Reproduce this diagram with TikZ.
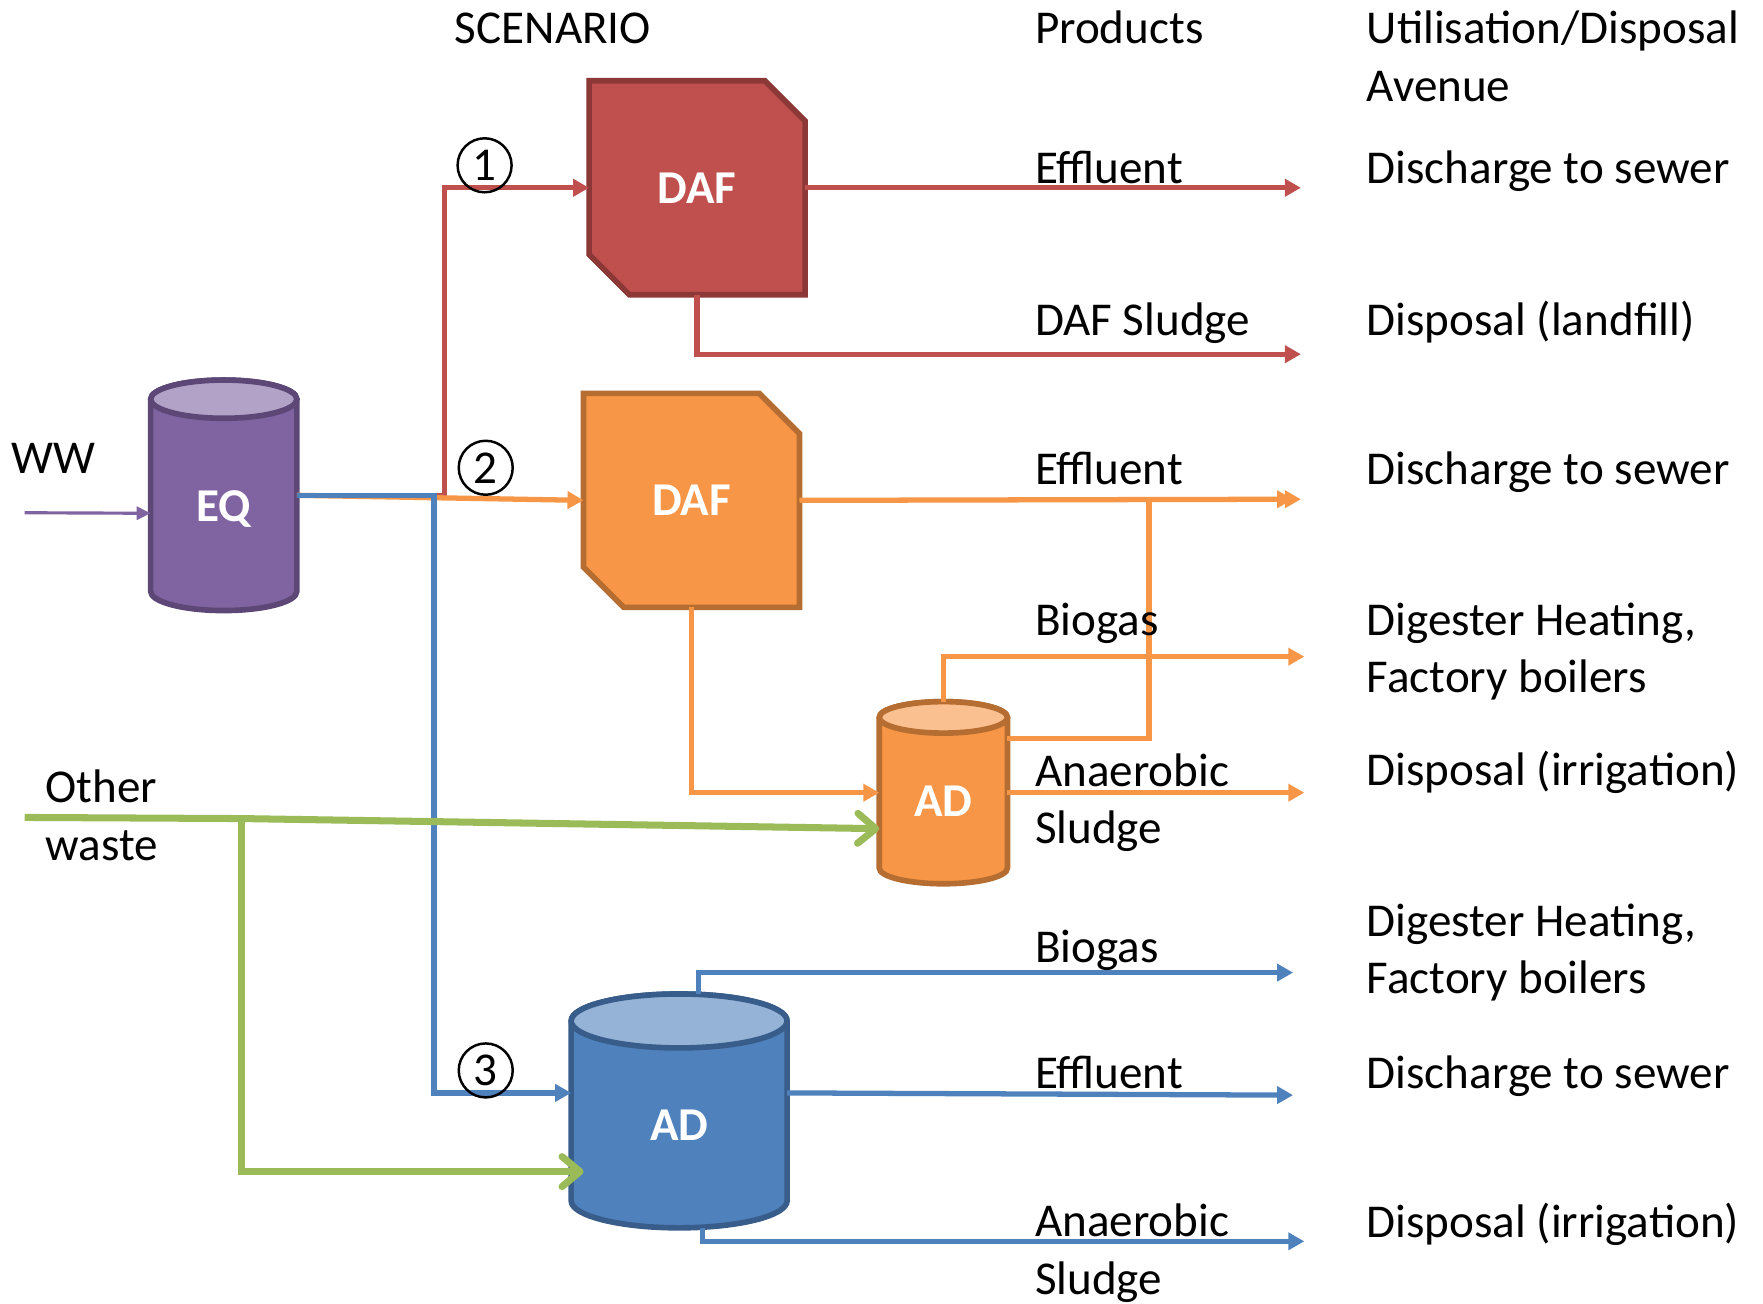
\documentclass[tikz,border=0pt]{standalone}
\usepackage{fontspec}
\setmainfont{Carlito}
\usetikzlibrary{arrows.meta, calc, shapes.misc, positioning}

\definecolor{redfill}{HTML}{C0504D}\definecolor{redline}{HTML}{8C3836}
\definecolor{orfill}{HTML}{F79646}\definecolor{orline}{HTML}{B66D31}\definecolor{ortop}{HTML}{FAC090}
\definecolor{purfill}{HTML}{8064A2}\definecolor{purline}{HTML}{5C4776}\definecolor{purtop}{HTML}{B3A2C7}
\definecolor{blufill}{HTML}{4F81BD}\definecolor{bluline}{HTML}{385D8A}\definecolor{blutop}{HTML}{95B3D7}
\definecolor{grn}{HTML}{9BBB59}

\tikzset{
  txt/.style={font=\fontsize{13.4}{16.3}\selectfont, anchor=base west, inner sep=0pt, align=left},
  unit/.style={chamfered rectangle, chamfered rectangle corners={north east,south west}, chamfered rectangle xsep=2.5mm, chamfered rectangle ysep=2.5mm, minimum width=21.6mm, minimum height=21.4mm, inner sep=0pt, outer sep=0pt, line width=1.6pt, text=white, font=\fontsize{13.4}{16}\selectfont\bfseries},
  tank/.style={inner sep=0pt, outer sep=0pt, text=white, text depth=0pt, font=\fontsize{13.4}{16}\selectfont\bfseries},
  tankwall/.style={line width=1.6pt},
  stage/.style={circle, draw, line width=0.7pt, minimum size=5.4mm, inner sep=0pt, font=\fontsize{13.4}{16}\selectfont},
  flow/.style={line width=1.5pt, -{Triangle[length=1.6mm,width=1.7mm]}},
  wasteflow/.style={line width=2pt, grn, -{Straight Barb[round,length=1.8mm,width=3mm]}}
}

\begin{document}
\begin{tikzpicture}[x=0.11244mm, y=0.11244mm]
	\useasboundingbox (0,0) rectangle (1568,-1159);

	% process units
	\node[unit, fill=redfill, draw=redline] (daf1) at (620,-167) {DAF};
	\node[unit, fill=orfill, draw=orline] (daf2) at (615,-445) {DAF};

	\filldraw[tankwall, fill=purfill, draw=purline] (134,-355) -- (134,-526) arc[start angle=180, end angle=360, x radius=65, y radius=17] -- (264,-355) arc[start angle=0, end angle=180, x radius=65, y radius=17];
	\filldraw[tankwall, fill=purtop, draw=purline] (199,-355) ellipse[x radius=65, y radius=17];
	\node[tank, minimum width=14.62mm, minimum height=23.05mm, text height=5.2mm] (eq) at (199,-440.5) {EQ};

	\filldraw[tankwall, fill=orfill, draw=orline] (782,-638) -- (782,-772) arc[start angle=180, end angle=360, x radius=57, y radius=14] -- (896,-638) arc[start angle=0, end angle=180, x radius=57, y radius=14];
	\filldraw[tankwall, fill=ortop, draw=orline] (839,-638) ellipse[x radius=57, y radius=14];
	\node[tank, minimum width=12.82mm, minimum height=18.22mm, text height=4.8mm] (ad2) at (839,-705) {AD};

	\filldraw[tankwall, fill=blufill, draw=bluline] (508,-908) -- (508,-1068) arc[start angle=180, end angle=360, x radius=96, y radius=24] -- (700,-908) arc[start angle=0, end angle=180, x radius=96, y radius=24];
	\filldraw[tankwall, fill=blutop, draw=bluline] (604,-908) ellipse[x radius=96, y radius=24];
	\node[tank, minimum width=21.59mm, minimum height=23.39mm, text height=6mm] (ad3) at (604,-988) {AD};

	% free ends
	\coordinate (wwin) at (22,-456); \coordinate (owin) at (22,-727); \coordinate (owsplit) at (215,-728);
	\coordinate (r1) at (1157,-167); \coordinate (r2) at (1157,-315); \coordinate (r3a) at (1150,-444); \coordinate (r3b) at (1157,-444);
	\coordinate (r4) at (1160,-584); \coordinate (r5) at (1160,-705); \coordinate (r6) at (1150,-865); \coordinate (r7) at (1150,-974); \coordinate (r8) at (1160,-1104);

	% scenario 1
	\draw[flow, redfill] (eq.east) -- ++(131,0) |- (daf1.west);
	\draw[flow, redfill] (daf1.east) -- (r1); \draw[flow, redfill] (daf1.south) |- (r2);

	% scenario 2
	\draw[flow, orfill] (eq.east) -- (daf2.west);
	\draw[flow, orfill] (daf2.east) -- (r3a); \draw[flow, orfill] ($(ad2.east)+(0,48)$) -| (1022,-444) -- (r3b);
	\draw[flow, orfill] (daf2.south) |- (ad2.west);
	\draw[flow, orfill] (ad2.north) |- (r4); \draw[flow, orfill] (ad2.east) -- (r5);

	% scenario 3
	\draw[flow, blufill] (eq.east) -- ++(122,0) |- ($(ad3.west)+(0,16)$);
	\draw[flow, blufill] ($(ad3.north)+(17,0)$) |- (r6); \draw[flow, blufill] ($(ad3.east)+(0,16)$) -- (r7); \draw[flow, blufill] ($(ad3.south)+(21,0)$) |- (r8);

	\draw[line width=0.9pt, purfill, -{Triangle[length=1.4mm,width=1.3mm]}] (wwin) -- ($(eq.west)+(0,-16)$);
	\draw[wasteflow] (owin) -- (owsplit) -- ($(ad2.west)+(0,-32)$);
	\draw[wasteflow] (owsplit) |- ($(ad3.west)+(11,-54)$);

	\node[stage] (s1) at (431,-147) {1}; \node[stage] (s2) at (432,-416) {2}; \node[stage] (s3) at (432,-952) {3};

	% labels
	\node[txt] (hscen) at (404,-39) {SCENARIO}; \node[txt] (hprod) at (920,-39) {Products}; \node[txt] (huse) at (1215,-90) {Utilisation/Disposal\\Avenue};
	\node[txt] (ww) at (10,-421) {WW}; \node[txt] (other) at (40,-765) {Other\\waste};

	\node[txt] (p1) at (920,-163) {Effluent}; \node[txt] (u1) at (1215,-163) {Discharge to sewer};
	\node[txt] (p2) at (920,-298) {DAF Sludge}; \node[txt] (u2) at (1215,-298) {Disposal (landfill)};
	\node[txt] (p3) at (920,-431) {Effluent}; \node[txt] (u3) at (1215,-431) {Discharge to sewer};
	\node[txt] (p4) at (920,-565) {Biogas}; \node[txt] (u4) at (1215,-616) {Digester Heating,\\Factory boilers};
	\node[txt] (p5) at (920,-750) {Anaerobic\\Sludge}; \node[txt] (u5) at (1215,-699) {Disposal (irrigation)};
	\node[txt] (p6) at (920,-856) {Biogas}; \node[txt] (u6) at (1215,-884) {Digester Heating,\\Factory boilers};
	\node[txt] (p7) at (920,-968) {Effluent}; \node[txt] (u7) at (1215,-968) {Discharge to sewer};
	\node[txt] (p8) at (920,-1151) {Anaerobic\\Sludge}; \node[txt] (u8) at (1215,-1101) {Disposal (irrigation)};
\end{tikzpicture}
\end{document}
